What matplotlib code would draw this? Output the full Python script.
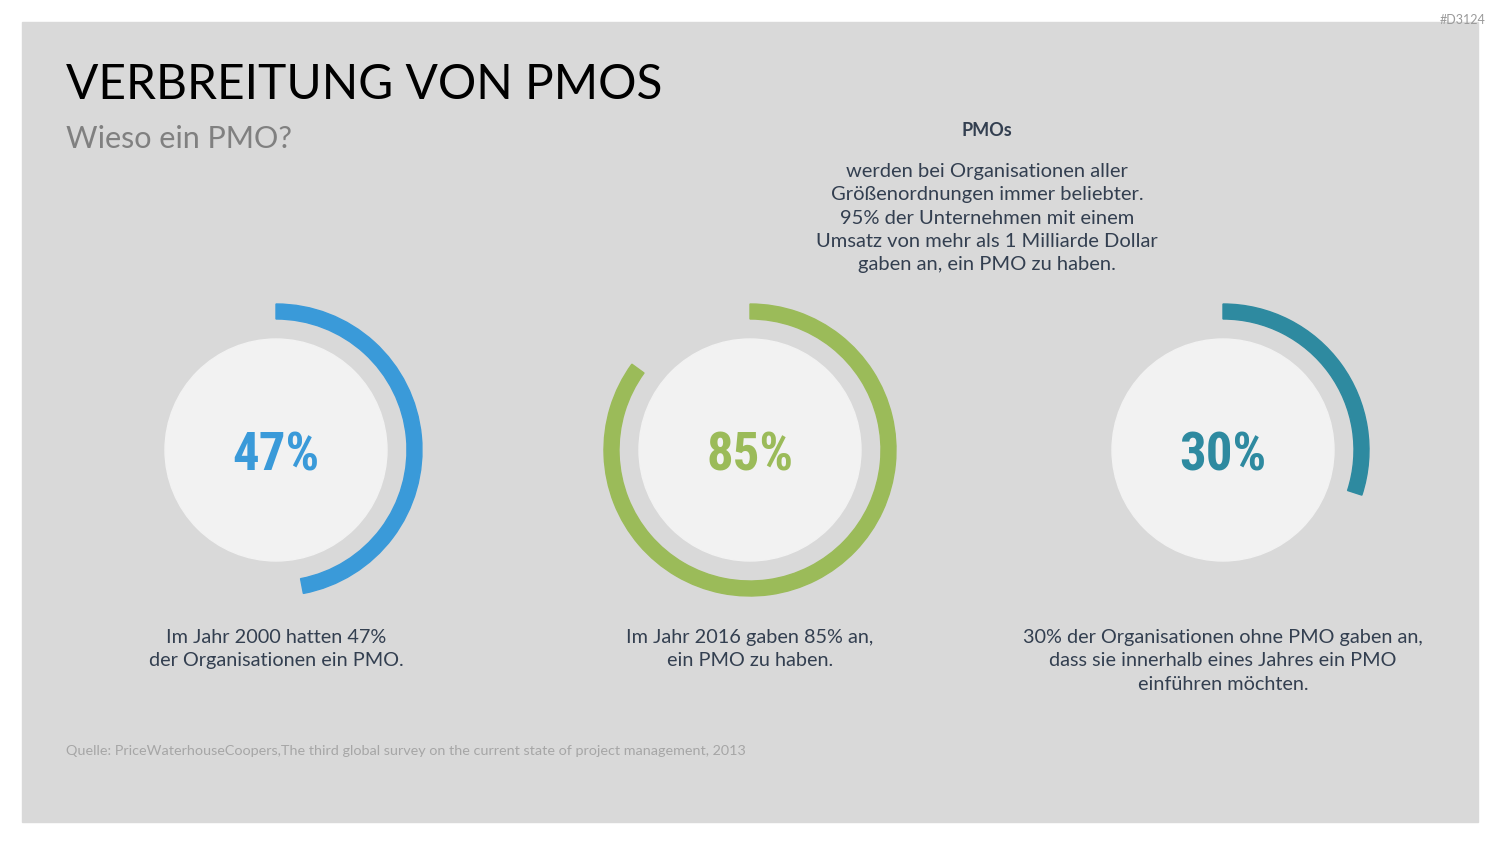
import matplotlib
matplotlib.use("Agg")
import matplotlib.pyplot as plt
from matplotlib.patches import Rectangle, Circle, Wedge

# Daten
werte = [47, 85, 30]
beschriftungen = ["47%", "85%", "30%"]
farben = ["#3a9ad9", "#9bbb59", "#2e8aa0"]
texte = [
    "Im Jahr 2000 hatten 47%\nder Organisationen ein PMO.",
    "Im Jahr 2016 gaben 85% an,\nein PMO zu haben.",
    "30% der Organisationen ohne PMO gaben an,\ndass sie innerhalb eines Jahres ein PMO\neinführen möchten.",
]
mitten_x = [276, 750, 1223]

titel = "VERBREITUNG VON PMOS"
untertitel = "Wieso ein PMO?"
info_titel = "PMOs"
info_text = ("werden bei Organisationen aller\nGrößenordnungen immer beliebter.\n"
             "95% der Unternehmen mit einem\nUmsatz von mehr als 1 Milliarde Dollar\n"
             "gaben an, ein PMO zu haben.")
quelle = ("Quelle: PriceWaterhouseCoopers,The third global survey on the current "
          "state of project management, 2013")

plt.rcParams['font.family'] = ['Lato', 'DejaVu Sans']

fig = plt.figure(figsize=(15, 8.44), dpi=100)
ax = fig.add_axes([0, 0, 1, 1])
ax.set_xlim(0, 1500)
ax.set_ylim(844, 0)
ax.axis('off')

# Hintergrundfläche
ax.add_patch(Rectangle((22, 22), 1456, 800, color="#d9d9d9", zorder=0))
ax.text(1486, 20, "#D3124", ha='right', va='center', fontsize=9, color="#9a9a9a")

ax.text(66, 85, titel, fontsize=34.5, color="black", va='center', ha='left')
ax.text(66, 139, untertitel, fontsize=22, color="#808080", va='center', ha='left')

ax.text(987, 131, info_titel, fontsize=13, fontweight='bold', color="#333f50",
        ha='center', va='center')
ax.text(987, 218, info_text, fontsize=14.5, color="#333f50", ha='center',
        va='center', linespacing=1.44)

cy = 450
for x, w, lab, col, t in zip(mitten_x, werte, beschriftungen, farben, texte):
    ax.add_patch(Circle((x, cy), 111, color="#f2f2f2", zorder=1))
    # y-Achse ist invertiert: Winkel laufen daher im Uhrzeigersinn
    ax.add_patch(Wedge((x, cy), 146, -90, -90 + 360 * w / 100, width=15,
                       color=col, zorder=2))
    ax.text(x, cy + 6, lab, fontsize=38, fontweight='bold', color=col,
            ha='center', va='center', fontstretch='condensed',
            family=['Roboto Condensed', 'DejaVu Sans'])
    ax.text(x, 629, t, fontsize=14.3, color="#333f50", ha='center', va='top',
            linespacing=1.46)

ax.text(66, 751, quelle, fontsize=10.35, color="#a6a6a6", ha='left', va='center')

fig.savefig("out.png", dpi=100)
